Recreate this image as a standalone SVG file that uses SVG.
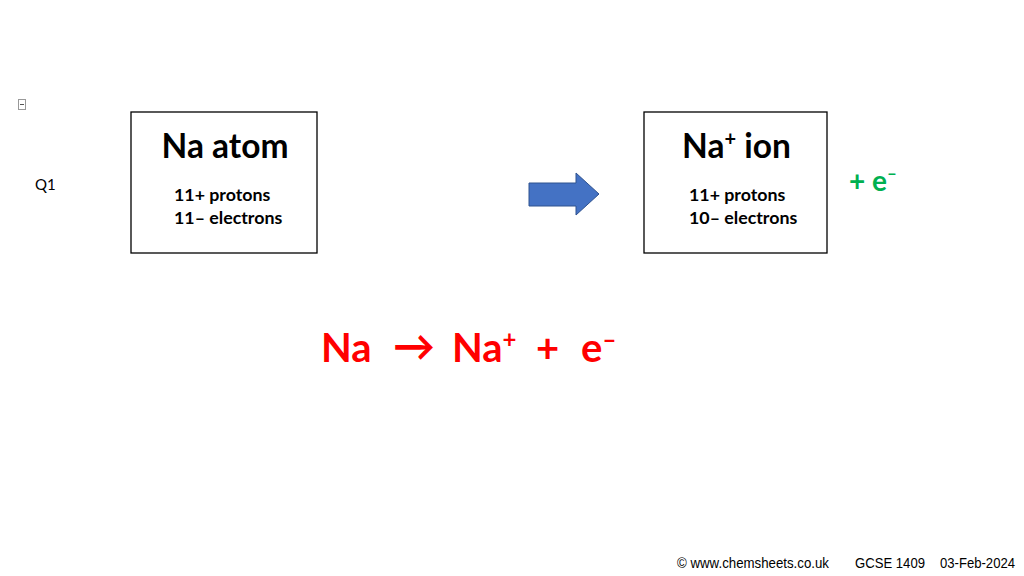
<svg xmlns="http://www.w3.org/2000/svg" width="1024" height="576" viewBox="0 0 1024 576">
<style>
.box{fill:#fff;stroke:#000;stroke-width:1.3}
.t{font-family:Lato,"Carlito","Open Sans",sans-serif;font-weight:bold}
.title{font-size:33.5px;fill:#000}
.sub{font-size:17.8px;fill:#000}
.eq{font-size:40px;fill:#FF0000}
.foot{font-family:"Liberation Sans Narrow","Liberation Sans",sans-serif;font-size:14px;fill:#000}
</style>
<rect width="1024" height="576" fill="#fff"/>
<g id="icon">
<rect x="18.5" y="99.5" width="7" height="10" fill="#fff" stroke="#999" stroke-width="1"/>
<line x1="20" y1="104.5" x2="24" y2="104.5" stroke="#555" stroke-width="1"/>
</g>
<text id="q1" x="35" y="190" font-family="Lato,'Open Sans',sans-serif" font-size="15" fill="#000">Q1</text>
<g id="na-atom">
<rect class="box" x="131" y="112" width="186" height="141"/>
<text class="t title" x="225" y="158" text-anchor="middle">Na atom</text>
<text class="t sub" x="174" y="201">11+ protons</text>
<text class="t sub" x="174" y="224">11– electrons</text>
</g>
<g id="connectors">
<polygon points="529,183 576,183 576,173 599,194 576,215 576,206 529,206" fill="#4472C4" stroke="#2F528F" stroke-width="1"/>
</g>
<g id="na-ion">
<rect class="box" x="644" y="112" width="183" height="141"/>
<text class="t title" x="682" y="158">Na<tspan font-size="20" dy="-12">+</tspan><tspan dy="12"> ion</tspan></text>
<text class="t sub" x="689" y="201">11+ protons</text>
<text class="t sub" x="689" y="224">10– electrons</text>
</g>
<text id="plus-e" class="t" x="849" y="191" font-size="28" fill="#00B050">+ e<tspan font-size="17" dy="-12">–</tspan></text>
<g id="equation">
<text class="t eq" x="321" y="362">Na</text>
<text x="393" y="361" font-family="Lato,sans-serif" font-weight="bold" font-size="42" fill="#FF0000">→</text>
<text class="t eq" x="452" y="362">Na<tspan font-size="24" dy="-14">+</tspan></text>
<text class="t eq" x="536" y="362">+</text>
<text class="t eq" x="581" y="362">e<tspan font-size="24" dy="-14">–</tspan></text>
</g>
<g id="footer">
<text class="foot" x="677" y="568" textLength="152" lengthAdjust="spacingAndGlyphs">© www.chemsheets.co.uk</text>
<text class="foot" x="855" y="568" textLength="70" lengthAdjust="spacingAndGlyphs">GCSE 1409</text>
<text class="foot" x="940" y="568" textLength="75" lengthAdjust="spacingAndGlyphs">03-Feb-2024</text>
</g>
</svg>
